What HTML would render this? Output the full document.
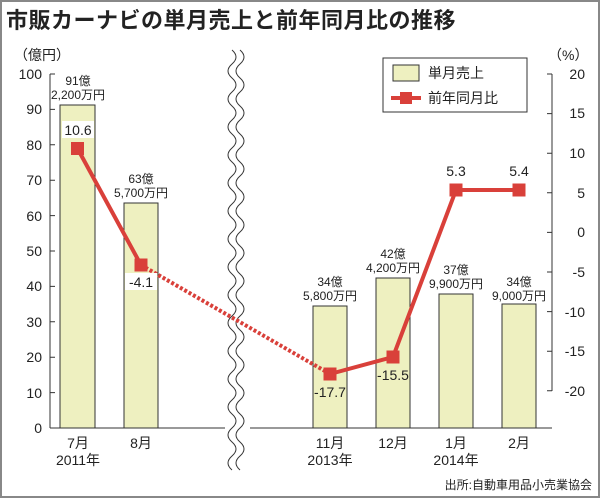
<!DOCTYPE html><html><head><meta charset="utf-8"><style>
body{margin:0;background:#fff}
svg{display:block}
text{font-family:"Liberation Sans","Noto Sans CJK JP",sans-serif;fill:#222}
</style></head><body>
<svg width="600" height="498" viewBox="0 0 600 498">
<rect x="1" y="1" width="598" height="496" fill="#fff" stroke="#888" stroke-width="2"/>
<text x="6" y="28" font-size="22" font-weight="bold" letter-spacing="0.5">市販カーナビの単月売上と前年同月比の推移</text>
<text x="14" y="60" font-size="14">（億円）</text>
<text x="548" y="60" font-size="14">（%）</text>
<g stroke="#333" stroke-width="1" fill="none">
<path d="M50 74V428"/>
<path d="M50 74h5M50 109.4h5M50 144.8h5M50 180.2h5M50 215.6h5M50 251h5M50 286.4h5M50 321.8h5M50 357.2h5M50 392.6h5"/>
<path d="M50 428H225M250 428H552"/>
<path d="M552 74V391M552 74h-5M552 113.6h-5M552 153.2h-5M552 192.8h-5M552 232.4h-5M552 272h-5M552 311.6h-5M552 351.2h-5M552 390.8h-5"/>
</g>
<g font-size="14" text-anchor="end">
<text x="42" y="79">100</text><text x="42" y="114">90</text><text x="42" y="150">80</text><text x="42" y="185">70</text><text x="42" y="221">60</text><text x="42" y="256">50</text><text x="42" y="291">40</text><text x="42" y="327">30</text><text x="42" y="362">20</text><text x="42" y="398">10</text><text x="42" y="433">0</text>
</g>
<g font-size="14" text-anchor="end">
<text x="585" y="79">20</text><text x="585" y="118">15</text><text x="585" y="158">10</text><text x="585" y="198">5</text><text x="585" y="237">0</text><text x="585" y="277">-5</text><text x="585" y="317">-10</text><text x="585" y="356">-15</text><text x="585" y="396">-20</text>
</g>
<g fill="#eef0c0" stroke="#333" stroke-width="1">
<rect x="60" y="105" width="35" height="323"/>
<rect x="124" y="203" width="34" height="225"/>
<rect x="313" y="306" width="34" height="122"/>
<rect x="376" y="278" width="34" height="150"/>
<rect x="439" y="294" width="34" height="134"/>
<rect x="502" y="304" width="34" height="124"/>
</g>
<g font-size="12" text-anchor="middle">
<text x="78" y="85">91億</text><text x="78" y="99">2,200万円</text>
<text x="141" y="183">63億</text><text x="141" y="197">5,700万円</text>
<text x="330" y="286">34億</text><text x="330" y="300">5,800万円</text>
<text x="393" y="258">42億</text><text x="393" y="272">4,200万円</text>
<text x="456" y="274">37億</text><text x="456" y="288">9,900万円</text>
<text x="519" y="286">34億</text><text x="519" y="300">9,000万円</text>
</g>
<g fill="none" stroke="#333" stroke-width="1">
<path d="M232 50 q8 7 0 14 t0 14 t0 14 t0 14 t0 14 t0 14 t0 14 t0 14 t0 14 t0 14 t0 14 t0 14 t0 14 t0 14 t0 14 t0 14 t0 14 t0 14 t0 14 t0 14 t0 14 t0 14 t0 14 t0 14 t0 14 t0 14 t0 14 t0 14 t0 14 t0 14"/>
<path d="M240 50 q8 7 0 14 t0 14 t0 14 t0 14 t0 14 t0 14 t0 14 t0 14 t0 14 t0 14 t0 14 t0 14 t0 14 t0 14 t0 14 t0 14 t0 14 t0 14 t0 14 t0 14 t0 14 t0 14 t0 14 t0 14 t0 14 t0 14 t0 14 t0 14 t0 14 t0 14"/>
</g>
<g stroke="#d9403a" stroke-width="4" fill="none">
<path d="M77.5 148.5L141 265"/>
<path d="M141 265L330 374" stroke-dasharray="3,2"/>
<path d="M330 374L393 357L456 190L519 190"/>
</g>
<g fill="#d9403a">
<rect x="71" y="142" width="13" height="13"/><rect x="134.5" y="258.5" width="13" height="13"/>
<rect x="323.5" y="367.5" width="13" height="13"/><rect x="386.5" y="350.5" width="13" height="13"/>
<rect x="449.5" y="183.5" width="13" height="13"/><rect x="512.5" y="183.5" width="13" height="13"/>
</g>
<g font-size="14" text-anchor="middle">
<rect x="62" y="121" width="32" height="17" fill="#fff"/><text x="78" y="135">10.6</text>
<rect x="125" y="273" width="32" height="17" fill="#fff"/><text x="141" y="287">-4.1</text>
<text x="330" y="397">-17.7</text>
<text x="393" y="380">-15.5</text>
<text x="456" y="176">5.3</text>
<text x="519" y="176">5.4</text>
</g>
<rect x="383" y="58" width="144" height="54" fill="#fff" stroke="#333"/>
<rect x="393" y="65" width="26" height="16" fill="#eef0c0" stroke="#333"/>
<text x="428" y="78" font-size="14">単月売上</text>
<path d="M391 98H421" stroke="#d9403a" stroke-width="4"/>
<rect x="400" y="92" width="12" height="12" fill="#d9403a"/>
<text x="428" y="103" font-size="14">前年同月比</text>
<g font-size="14" text-anchor="middle">
<text x="78" y="448">7月</text><text x="78" y="465">2011年</text>
<text x="141" y="448">8月</text>
<text x="330" y="448">11月</text><text x="330" y="465">2013年</text>
<text x="393" y="448">12月</text>
<text x="456" y="448">1月</text><text x="456" y="465">2014年</text>
<text x="519" y="448">2月</text>
</g>
<text x="592" y="489" font-size="12" text-anchor="end">出所:自動車用品小売業協会</text>
</svg></body></html>
